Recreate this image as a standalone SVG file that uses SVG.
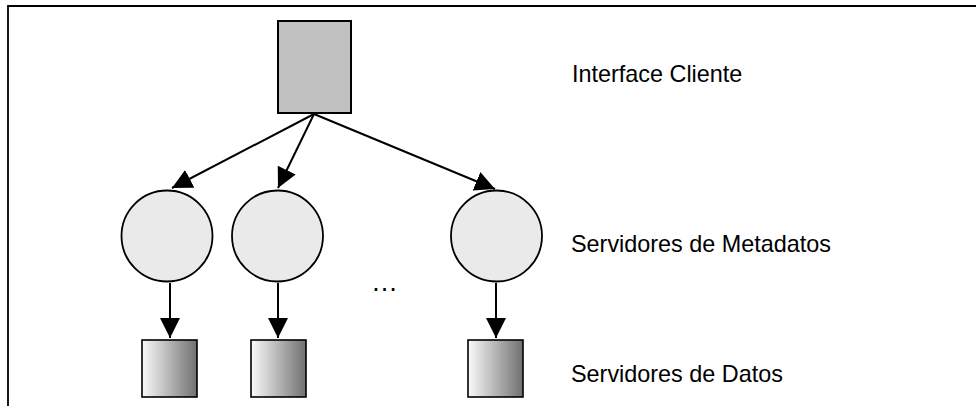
<svg xmlns="http://www.w3.org/2000/svg" width="976" height="406" viewBox="0 0 976 406">
  <style>
    .lbl { font-family: "Liberation Sans", Arial, sans-serif; font-size: 23.4px; fill: #000; }
    .conn { stroke: #000; stroke-width: 2; fill: none; marker-end: url(#arr); }
    .meta { fill: #eaeaea; stroke: #000; stroke-width: 1.8; }
    .data { fill: url(#grad); stroke: #000; stroke-width: 1.6; }
  </style>
  <defs>
    <marker id="arr" markerUnits="userSpaceOnUse" markerWidth="22" markerHeight="22" refX="20" refY="10" orient="auto">
      <path d="M0,0 L20,10 L0,20 z" fill="#000"/>
    </marker>
    <linearGradient id="grad" x1="0" y1="0" x2="1" y2="0">
      <stop offset="0" stop-color="#fafafa"/>
      <stop offset="1" stop-color="#707070"/>
    </linearGradient>
  </defs>
  <rect width="976" height="406" fill="#fff"/>
  <g id="frame">
    <path d="M8,406 V6 H976" stroke="#000" stroke-width="1.8" fill="none"/>
  </g>
  <g id="cliente">
    <rect x="278" y="21" width="73" height="92" fill="#c0c0c0" stroke="#000" stroke-width="2"/>
  </g>
  <g id="connectors">
    <line class="conn" x1="314" y1="114" x2="172" y2="188"/>
    <line class="conn" x1="314" y1="114" x2="278" y2="188"/>
    <line class="conn" x1="314" y1="114" x2="495" y2="189"/>
    <line class="conn" x1="170" y1="283" x2="170" y2="338"/>
    <line class="conn" x1="278" y1="283" x2="278" y2="338"/>
    <line class="conn" x1="496" y1="283" x2="496" y2="338"/>
  </g>
  <g id="meta1"><circle class="meta" cx="167" cy="236" r="45.5"/></g>
  <g id="meta2"><circle class="meta" cx="277.5" cy="236" r="45.5"/></g>
  <g id="meta3"><circle class="meta" cx="496.5" cy="236" r="45.5"/></g>
  <g id="data1"><rect class="data" x="142" y="340" width="55" height="57"/></g>
  <g id="data2"><rect class="data" x="251" y="340" width="55" height="57"/></g>
  <g id="data3"><rect class="data" x="468" y="340" width="55" height="57"/></g>
  <g id="ellipsis"><text class="lbl" x="371" y="291" style="font-size:27px">…</text></g>
  <g id="labels">
    <text class="lbl" x="572" y="82">Interface Cliente</text>
    <text class="lbl" x="571" y="252">Servidores de Metadatos</text>
    <text class="lbl" x="571" y="382">Servidores de Datos</text>
  </g>
</svg>
